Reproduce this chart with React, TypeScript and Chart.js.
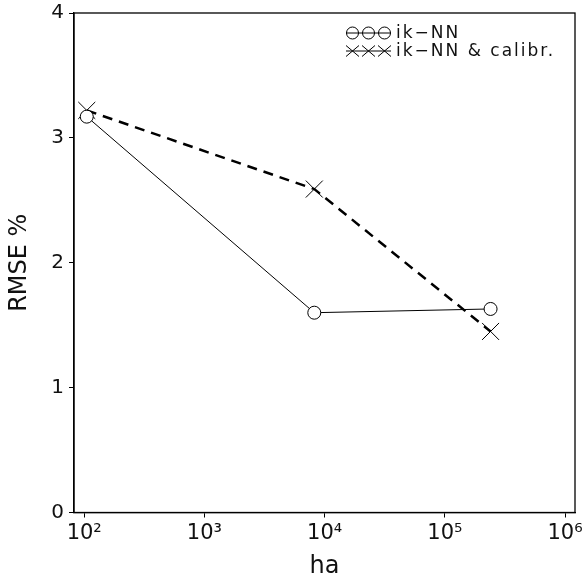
import React, { useEffect, useRef } from "react";
import { Chart, registerables } from "chart.js";

Chart.register(...registerables);

// ---- data ----
const areaHa = [105, 8200, 240000];
const ikNN = [3.17, 1.6, 1.63];
const ikNNCalibr = [3.22, 2.59, 1.45];
const xTickValues = [1e2, 1e3, 1e4, 1e5, 1e6];
const xTickLabels = ["10²", "10³", "10⁴", "10⁵", "10⁶"];
const yTickValues = [0, 1, 2, 3, 4];
const seriesNames = ["ik−NN", "ik−NN & calibr."];
const xTitle = "ha";
const yTitle = "RMSE %";

const FONT = "'DejaVu Sans', sans-serif";
const INK = "#111";

const frame = {
  id: "frame",
  afterDraw(chart: any) {
    const { ctx, chartArea: a } = chart;
    ctx.save();
    ctx.strokeStyle = "#000";
    ctx.lineWidth = 1.3;
    ctx.strokeRect(a.left, a.top, a.right - a.left, a.bottom - a.top);
    ctx.restore();
  },
};

const legendPlugin = {
  id: "customLegend",
  afterDraw(chart: any) {
    const { ctx } = chart;
    ctx.save();
    ctx.strokeStyle = "#000";
    ctx.fillStyle = INK;
    ctx.lineWidth = 1;
    const x0 = 346;
    const x1 = 391;
    const centers = [352.5, 368.5, 384.5];
    const rows = [33, 51];
    ctx.beginPath();
    ctx.moveTo(x0, rows[0]);
    ctx.lineTo(x1, rows[0]);
    ctx.stroke();
    centers.forEach((cx) => {
      ctx.beginPath();
      ctx.arc(cx, rows[0], 6, 0, Math.PI * 2);
      ctx.stroke();
    });
    ctx.beginPath();
    ctx.moveTo(x0, rows[1]);
    ctx.lineTo(x1, rows[1]);
    ctx.stroke();
    centers.forEach((cx) => {
      ctx.beginPath();
      ctx.moveTo(cx - 6.5, rows[1] - 5.5);
      ctx.lineTo(cx + 6.5, rows[1] + 5.5);
      ctx.moveTo(cx - 6.5, rows[1] + 5.5);
      ctx.lineTo(cx + 6.5, rows[1] - 5.5);
      ctx.stroke();
    });
    ctx.font = `17px ${FONT}`;
    (ctx as any).letterSpacing = "2px";
    ctx.textBaseline = "middle";
    ctx.textAlign = "left";
    ctx.fillText(seriesNames[0], 396, rows[0] + 1);
    ctx.fillText(seriesNames[1], 396, rows[1] + 1);
    ctx.restore();
  },
};

export default function App() {
  const ref = useRef<HTMLCanvasElement | null>(null);

  useEffect(() => {
    if (!ref.current) return;
    const chart = new Chart(ref.current, {
      type: "line",
      data: {
        datasets: [
          {
            label: seriesNames[0],
            data: areaHa.map((x, i) => ({ x, y: ikNN[i] })),
            borderColor: "#000",
            borderWidth: 1,
            pointStyle: "circle",
            pointRadius: 6.5,
            pointBorderWidth: 1,
            pointBorderColor: "#000",
            pointBackgroundColor: "#fff",
            tension: 0,
          },
          {
            label: seriesNames[1],
            data: areaHa.map((x, i) => ({ x, y: ikNNCalibr[i] })),
            borderColor: "#000",
            borderWidth: 2.5,
            borderDash: [10, 7],
            pointStyle: "crossRot",
            pointRadius: 12,
            pointBorderWidth: 1,
            pointBorderColor: "#000",
            pointBackgroundColor: "#000",
            tension: 0,
          },
        ],
      },
      options: {
        responsive: false,
        animation: false,
        devicePixelRatio: 1,
        layout: { padding: { left: 0, right: 9.5, top: 13, bottom: 0 } },
        plugins: {
          legend: { display: false },
          tooltip: { enabled: false },
        },
        scales: {
          x: {
            type: "logarithmic",
            min: Math.pow(10, 1.915),
            max: Math.pow(10, 6.0826),
            afterBuildTicks: (s: any) => {
              s.ticks = xTickValues.map((v) => ({ value: v }));
            },
            afterFit: (s: any) => {
              s.height = 71.5;
              s.paddingLeft = 0;
              s.paddingRight = 0;
            },
            ticks: {
              autoSkip: false,
              maxRotation: 0,
              padding: 3,
              color: INK,
              font: { family: FONT, size: 21 },
              callback: (v: any) => {
                const i = xTickValues.indexOf(Number(v));
                return i >= 0 ? xTickLabels[i] : "";
              },
            },
            grid: {
              drawOnChartArea: false,
              drawTicks: true,
              tickLength: 5,
              color: "#000",
              lineWidth: 1,
            },
            border: { display: true, color: "#000", width: 1.3 },
            title: {
              display: true,
              text: xTitle,
              color: INK,
              font: { family: FONT, size: 24 },
              padding: { top: 0, bottom: 3 },
            },
          },
          y: {
            type: "linear",
            min: 0,
            max: 4,
            afterBuildTicks: (s: any) => {
              s.ticks = yTickValues.map((v) => ({ value: v }));
            },
            afterFit: (s: any) => {
              s.width = 74;
              s.paddingTop = 0;
              s.paddingBottom = 0;
            },
            ticks: {
              padding: 5,
              color: INK,
              font: { family: FONT, size: 20, lineHeight: 1 },
            },
            grid: {
              drawOnChartArea: false,
              drawTicks: true,
              tickLength: 5,
              color: "#000",
              lineWidth: 1,
            },
            border: { display: true, color: "#000", width: 1.3 },
            title: {
              display: true,
              text: yTitle,
              color: INK,
              font: { family: FONT, size: 24 },
              padding: { top: 5, bottom: 0 },
            },
          },
        },
      },
      plugins: [frame, legendPlugin],
    } as any);
    return () => chart.destroy();
  }, []);

  return (
    <div style={{ position: "fixed", left: 0, top: 0, width: 588, height: 584, background: "#fff" }}>
      <canvas ref={ref} width={588} height={584} style={{ display: "block" }} />
    </div>
  );
}
